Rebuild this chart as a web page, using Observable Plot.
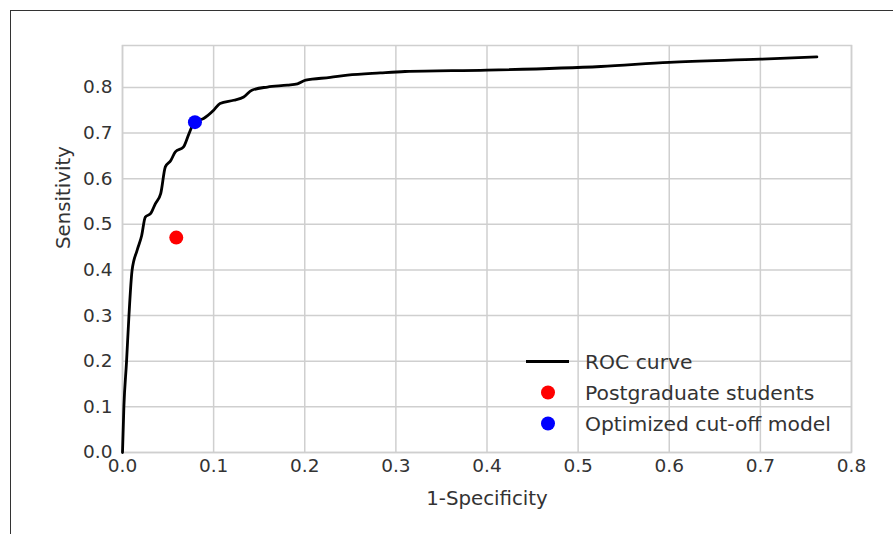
<!DOCTYPE html>
<html>
<head>
<meta charset="utf-8">
<script src="https://cdn.jsdelivr.net/npm/d3@7"></script>
<script src="https://cdn.jsdelivr.net/npm/@observablehq/plot@0.6"></script>
<style>
  html, body { margin: 0; padding: 0; background: white; }
  #wrap { position: relative; width: 893px; height: 534px; overflow: hidden; font-family: "DejaVu Sans", sans-serif; }
  #border { position: absolute; left: 10px; top: 10px; right: -5px; bottom: -5px; border-left: 1.5px solid #333; border-top: 1.5px solid #333; pointer-events: none; }
  #legend { position: absolute; left: 0; top: 0; pointer-events: none; }
</style>
</head>
<body>
<div id="wrap"><div id="border"></div></div>
<script>
// ROC curve: 1-Specificity (fpr) and Sensitivity (tpr)
const rocFpr = [0, 0.0015, 0.0044, 0.007, 0.0105, 0.016, 0.021, 0.025, 0.031, 0.036, 0.042, 0.047, 0.053, 0.058, 0.067, 0.073, 0.079, 0.089, 0.100, 0.107, 0.122, 0.133, 0.142, 0.159, 0.181, 0.192, 0.201, 0.228, 0.247, 0.283, 0.31, 0.4, 0.525, 0.6, 0.7, 0.762];
const rocTpr = [0, 0.099, 0.198, 0.297, 0.399, 0.443, 0.475, 0.516, 0.524, 0.545, 0.568, 0.626, 0.640, 0.659, 0.670, 0.699, 0.724, 0.732, 0.750, 0.765, 0.772, 0.779, 0.794, 0.801, 0.805, 0.808, 0.816, 0.822, 0.827, 0.832, 0.835, 0.838, 0.846, 0.855, 0.862, 0.867];

const pointLabels = ["Postgraduate students", "Optimized cut-off model"];
const pointFpr = [0.059, 0.0795];
const pointTpr = [0.471, 0.724];
const pointColors = ["#ff0000", "#0000ff"];

const xTicks = [0, 0.1, 0.2, 0.3, 0.4, 0.5, 0.6, 0.7, 0.8];
const yTicks = [0, 0.1, 0.2, 0.3, 0.4, 0.5, 0.6, 0.7, 0.8];
const legendLabels = ["ROC curve", "Postgraduate students", "Optimized cut-off model"];

const roc = rocFpr.map((x, i) => ({x, y: rocTpr[i]}));
const pts = pointLabels.map((label, i) => ({label, x: pointFpr[i], y: pointTpr[i], color: pointColors[i]}));

const fmt = d3.format(".1f");
const gridStyle = {stroke: "#cfcfcf", strokeOpacity: 1, strokeWidth: 1.5};

const chart = Plot.plot({
  width: 893,
  height: 534,
  marginLeft: 122,
  marginRight: 42,
  marginTop: 45,
  marginBottom: 82,
  style: {fontFamily: "DejaVu Sans", fontSize: "18px", color: "#333", background: "white"},
  x: {domain: [0, 0.8], label: null},
  y: {domain: [0, 0.892], label: null},
  marks: [
    Plot.gridX(xTicks, gridStyle),
    Plot.gridY(yTicks, gridStyle),
    Plot.frame({stroke: "#cfcfcf", strokeWidth: 1.5}),
    Plot.axisX(xTicks, {tickSize: 0, tickPadding: 6, tickFormat: fmt, fontSize: 18.5, label: null, fill: "#333"}),
    Plot.axisY(yTicks, {tickSize: 0, tickPadding: 10, tickFormat: fmt, fontSize: 18.5, label: null, fill: "#333"}),
    Plot.line(roc, {x: "x", y: "y", stroke: "black", strokeWidth: 2.8, curve: "monotone-x"}),
    Plot.dot(pts, {x: "x", y: "y", r: 7, fill: "color", stroke: null}),
    Plot.text(["1-Specificity"], {frameAnchor: "bottom", dy: 46, text: d => d, fontSize: 19.8, fill: "#333", lineAnchor: "middle"}),
    Plot.text(["Sensitivity"], {frameAnchor: "left", dx: -59, rotate: -90, text: d => d, fontSize: 19.8, fill: "#333", lineAnchor: "middle"})
  ]
});

const wrap = document.getElementById("wrap");
wrap.insertBefore(chart, wrap.firstChild);

// Legend overlay
const legend = d3.select(wrap).append("svg")
  .attr("id", "legend")
  .attr("width", 893).attr("height", 534)
  .style("font-family", "DejaVu Sans")
  .style("font-size", "20.3px");
const rowY = [361.5, 392.5, 423.5];
legendLabels.forEach((label, i) => {
  const g = legend.append("g").attr("transform", `translate(0,${rowY[i]})`);
  if (i === 0) {
    g.append("line").attr("x1", 526).attr("x2", 569).attr("y1", 0).attr("y2", 0)
      .attr("stroke", "black").attr("stroke-width", 2.8);
  } else {
    g.append("circle").attr("cx", 548).attr("cy", 0).attr("r", 7).attr("fill", pointColors[i - 1]);
  }
  g.append("text").attr("x", 585).attr("y", 0).attr("dy", "0.35em").attr("fill", "#333").text(label);
});
</script>
</body>
</html>
